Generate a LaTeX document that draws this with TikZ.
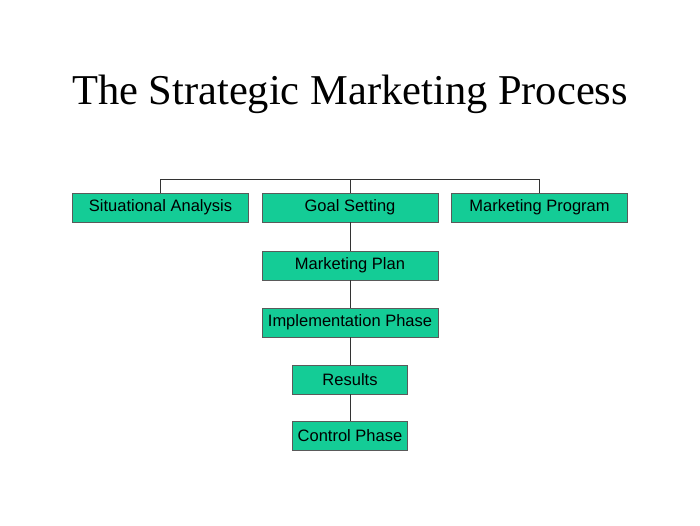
\documentclass[tikz,border=0pt]{standalone}
\usepackage{fontspec}
\setmainfont{Liberation Serif}
\newfontfamily\boxfont{Liberation Sans}
\definecolor{boxgreen}{RGB}{20,204,150}
\definecolor{edge}{RGB}{90,90,90}
\begin{document}
\begin{tikzpicture}[x=1pt,y=-1pt,
  box/.style={draw=edge,line width=0.6pt,fill=boxgreen,minimum height=29pt,inner sep=0pt,font=\boxfont\fontsize{16.5}{19}\selectfont},
  wide/.style={box,minimum width=176pt},
  narrow/.style={box,minimum width=115pt},
  link/.style={draw=black!80,line width=1pt}]
\useasboundingbox (0,0) rectangle (700,525);
\node (title) at (350,94) {\fontsize{42.5}{50}\selectfont The Strategic Marketing Process};
\node[wide] (sa) at (160.5,207.5) {Situational Analysis};
\node[wide] (gs) at (350,207.5) {Goal Setting};
\node[wide] (mp) at (539.5,207.5) {Marketing Program};
\node[wide] (pl) at (350,265.5) {Marketing Plan};
\node[wide] (ip) at (350,322.5) {Implementation Phase};
\node[narrow] (rs) at (350,379.5) {Results};
\node[narrow] (cp) at (350,435.5) {Control Phase};
\coordinate (bar) at (350,179);
\draw[link] (sa.north) -- (sa.north |- bar) -- (mp.north |- bar) -- (mp.north);
\draw[link] (bar) -- (gs.north);
\draw[link] (gs) -- (pl) (pl) -- (ip) (ip) -- (rs) (rs) -- (cp);
\end{tikzpicture}
\end{document}
